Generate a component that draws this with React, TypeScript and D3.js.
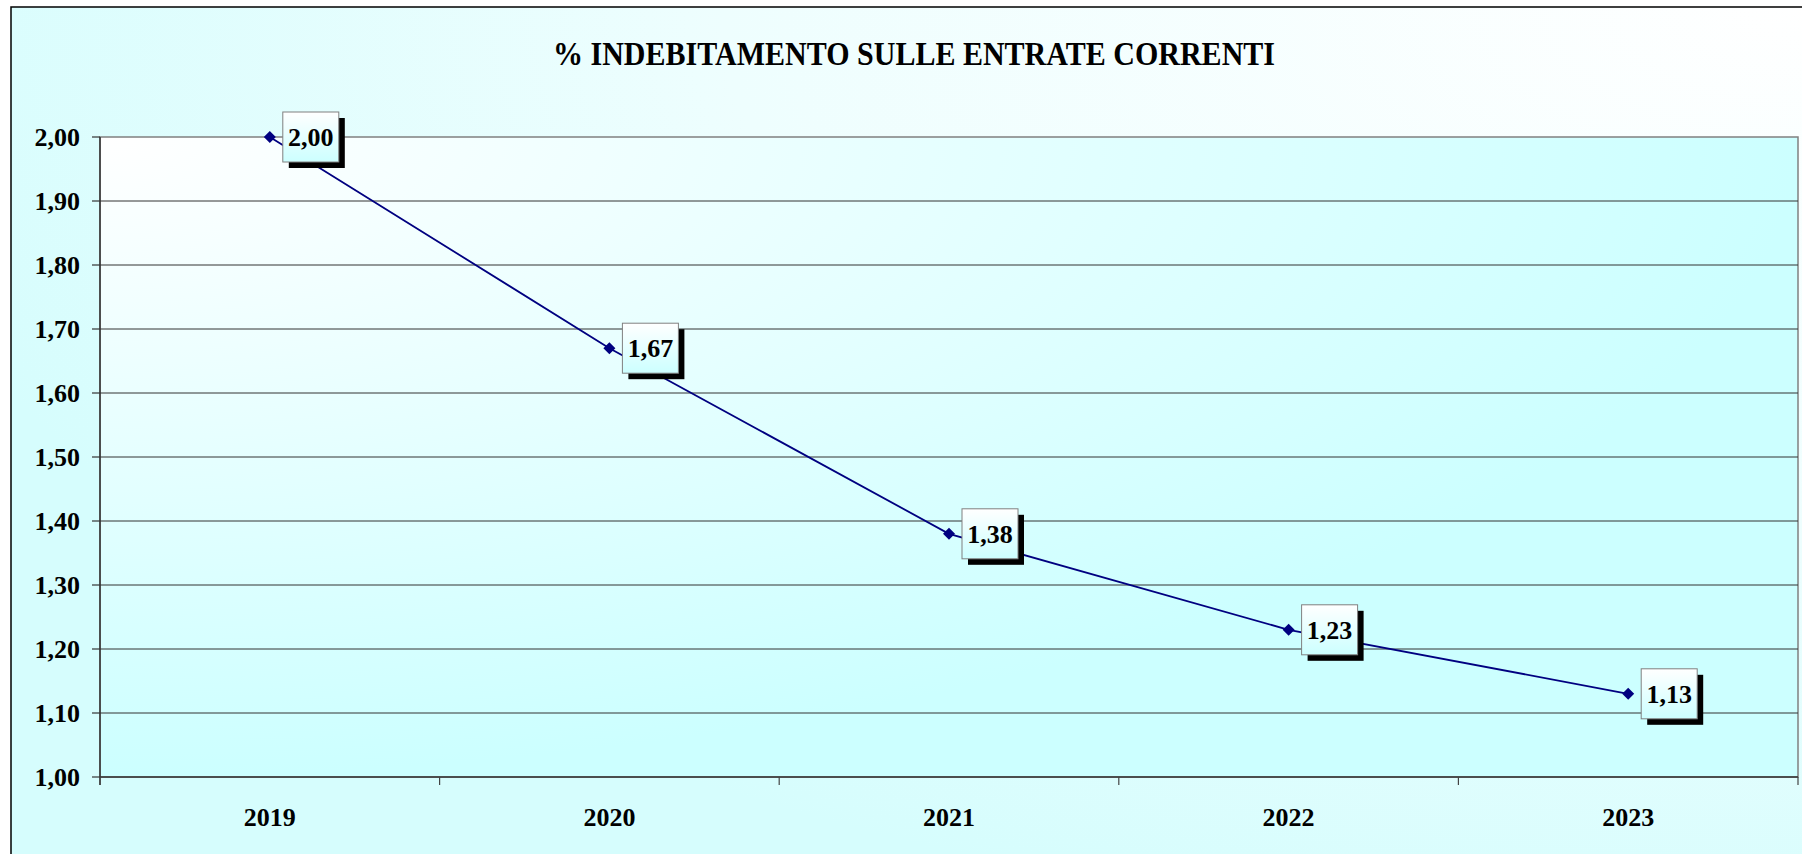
import React from "react";
import * as d3 from "d3";

const categories = ["2019", "2020", "2021", "2022", "2023"];
const values = [2.0, 1.67, 1.38, 1.23, 1.13];
const yTicks = [1.0, 1.1, 1.2, 1.3, 1.4, 1.5, 1.6, 1.7, 1.8, 1.9, 2.0];
const title = "% INDEBITAMENTO SULLE ENTRATE CORRENTI";

const W = 1802;
const H = 854;
const plot = { left: 100, top: 137, right: 1798, bottom: 777 };
const FONT = "'Liberation Serif', 'Times New Roman', serif";

const fmt = (v: number) => v.toFixed(2).replace(".", ",");

export default function App() {
  const x = d3
    .scaleBand<string>()
    .domain(categories)
    .range([plot.left, plot.right])
    .padding(0);
  const y = d3.scaleLinear().domain([1, 2]).range([plot.bottom, plot.top]);

  const pts = categories.map((c, i) => ({
    c,
    v: values[i],
    px: (x(c) as number) + x.bandwidth() / 2,
    py: y(values[i]),
  }));
  const line = d3
    .line<{ px: number; py: number }>()
    .x((d) => d.px)
    .y((d) => d.py);

  const boundaries = categories
    .map((c) => x(c) as number)
    .concat([plot.right]);

  return (
    <svg
      width={W}
      height={H}
      style={{ position: "absolute", left: 0, top: 0, display: "block" }}
    >
      <defs>
        <radialGradient id="outerBg" cx="1" cy="0" r="1.1">
          <stop offset="0" stopColor="#ffffff" />
          <stop offset="0.55" stopColor="#eefefe" />
          <stop offset="1" stopColor="#d6fdfd" />
        </radialGradient>
        <radialGradient id="plotBg" cx="0" cy="0" r="1">
          <stop offset="0" stopColor="#ffffff" />
          <stop offset="1" stopColor="#ccffff" />
        </radialGradient>
        <linearGradient id="boxBg" x1="0" y1="0" x2="0" y2="1">
          <stop offset="0" stopColor="#ffffff" />
          <stop offset="1" stopColor="#ccffff" />
        </linearGradient>
      </defs>

      <rect x={0} y={0} width={W} height={H} fill="#ffffff" />
      <rect
        x={11}
        y={7}
        width={W}
        height={H}
        fill="url(#outerBg)"
        stroke="#000"
        strokeWidth={1.5}
      />

      <text
        x={914}
        y={65}
        textAnchor="middle"
        fontFamily={FONT}
        fontWeight="bold"
        fontSize={33}
        textLength={722}
        lengthAdjust="spacingAndGlyphs"
        fill="#000"
      >
        {title}
      </text>

      <rect
        x={plot.left}
        y={plot.top}
        width={plot.right - plot.left}
        height={plot.bottom - plot.top}
        fill="url(#plotBg)"
        stroke="#808080"
        strokeWidth={1.5}
      />

      {yTicks.map((t) => (
        <g key={t}>
          {t > 1 && t < 2 && (
            <line
              x1={plot.left}
              x2={plot.right}
              y1={y(t)}
              y2={y(t)}
              stroke="#333"
              strokeWidth={1}
            />
          )}
          <line
            x1={plot.left - 8}
            x2={plot.left}
            y1={y(t)}
            y2={y(t)}
            stroke="#333"
            strokeWidth={1.2}
          />
          <text
            x={80}
            y={y(t) + 9}
            textAnchor="end"
            fontFamily={FONT}
            fontWeight="bold"
            fontSize={26}
            fill="#000"
          >
            {fmt(t)}
          </text>
        </g>
      ))}

      <line
        x1={plot.left}
        x2={plot.left}
        y1={plot.top}
        y2={plot.bottom + 8}
        stroke="#333"
        strokeWidth={1.5}
      />
      <line
        x1={plot.left}
        x2={plot.right}
        y1={plot.bottom}
        y2={plot.bottom}
        stroke="#333"
        strokeWidth={1.5}
      />
      {boundaries.map((bx, i) => (
        <line
          key={i}
          x1={bx}
          x2={bx}
          y1={plot.bottom}
          y2={plot.bottom + 8}
          stroke="#444"
          strokeWidth={1.2}
        />
      ))}
      {categories.map((c) => (
        <text
          key={c}
          x={(x(c) as number) + x.bandwidth() / 2}
          y={826}
          textAnchor="middle"
          fontFamily={FONT}
          fontWeight="bold"
          fontSize={26}
          fill="#000"
        >
          {c}
        </text>
      ))}

      <path
        d={line(pts) || ""}
        fill="none"
        stroke="#000080"
        strokeWidth={1.8}
      />
      {pts.map((p) => (
        <path
          key={p.c}
          d={`M${p.px},${p.py - 6}L${p.px + 6},${p.py}L${p.px},${p.py + 6}L${p.px - 6},${p.py}Z`}
          fill="#000080"
        />
      ))}

      {pts.map((p) => {
        const bx = p.px + 13;
        const by = p.py - 25;
        return (
          <g key={"lab" + p.c}>
            <rect x={bx + 6} y={by + 6} width={56} height={50} fill="#000" />
            <rect
              x={bx}
              y={by}
              width={56}
              height={50}
              fill="url(#boxBg)"
              stroke="#808080"
              strokeWidth={1}
            />
            <text
              x={bx + 28}
              y={p.py + 9}
              textAnchor="middle"
              fontFamily={FONT}
              fontWeight="bold"
              fontSize={26}
              fill="#000"
            >
              {fmt(p.v)}
            </text>
          </g>
        );
      })}
    </svg>
  );
}
